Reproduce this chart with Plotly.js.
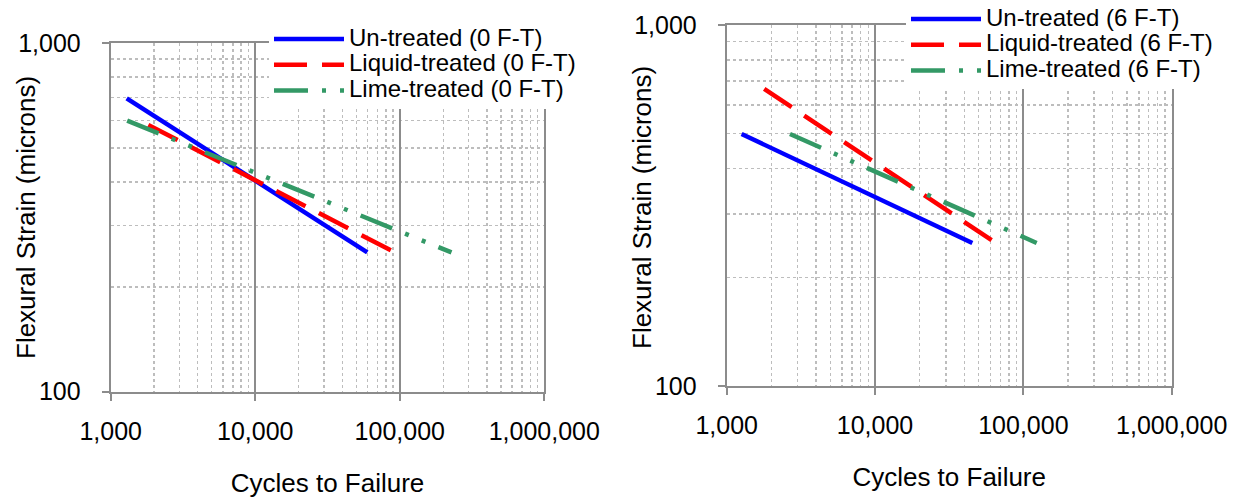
<!DOCTYPE html>
<html>
<head>
<meta charset="utf-8">
<script src="https://cdn.plot.ly/plotly-3.0.1.min.js"></script>
<style>html,body{margin:0;padding:0;background:#fff;}#chart{width:1244px;height:498px;}</style>
</head>
<body>
<div id="chart"></div>
<script>
// ---- Data ----
const seriesNames0 = ['Un-treated (0 F-T)', 'Liquid-treated (0 F-T)', 'Lime-treated (0 F-T)'];
const seriesNames6 = ['Un-treated (6 F-T)', 'Liquid-treated (6 F-T)', 'Lime-treated (6 F-T)'];

// 0 F-T fatigue lines (cycles to failure, flexural strain in microns)
const untreated0Cycles = [1290, 59600];
const untreated0Strain = [695, 251];
const liquid0Cycles = [1820, 92700];
const liquid0Strain = [583, 251];
const lime0Cycles = [1300, 228000];
const lime0Strain = [600, 251];

// 6 F-T fatigue lines
const untreated6Cycles = [1260, 45300];
const untreated6Strain = [499, 249];
const liquid6Cycles = [1790, 65400];
const liquid6Strain = [665, 249];
const lime6Cycles = [2670, 123000];
const lime6Strain = [499, 249];

// Tick values / labels
const xTickVals = [1000, 10000, 100000, 1000000];
const yTickVals = [100, 1000];
const xTitle = 'Cycles to Failure';
const yTitle = 'Flexural Strain (microns)';

// ---- Styling ----
const FONT = 'Arial, "Liberation Sans", sans-serif';
const AX = '#8c8c8c';
const MINOR = '#bdbdbd';
const styles = [
  {color: '#0000ff', width: 4.5, dash: 'solid'},
  {color: '#ff0000', width: 4.5, dash: '33px,15px'},
  {color: '#339966', width: 4.5, dash: '34px,14px,4px,14px,4px,14px'}
];

function minorVals(lo, hi) {
  const out = [];
  for (let d = lo; d < hi; d *= 10) for (let k = 2; k <= 9; k++) out.push(k * d);
  return out;
}

function legendLabel(name) {
  return '<span style="font-size:24px">' + name + '</span>';
}

function mk(x, y, name, s, xa, ya, leg) {
  return {x, y, name: legendLabel(name), type: 'scatter', mode: 'lines', xaxis: xa, yaxis: ya, legend: leg,
          line: {color: s.color, width: s.width, dash: s.dash}, hoverinfo: 'x+y'};
}

const data = [
  mk(untreated0Cycles, untreated0Strain, seriesNames0[0], styles[0], 'x', 'y', 'legend'),
  mk(liquid0Cycles, liquid0Strain, seriesNames0[1], styles[1], 'x', 'y', 'legend'),
  mk(lime0Cycles, lime0Strain, seriesNames0[2], styles[2], 'x', 'y', 'legend'),
  mk(untreated6Cycles, untreated6Strain, seriesNames6[0], styles[0], 'x2', 'y2', 'legend2'),
  mk(liquid6Cycles, liquid6Strain, seriesNames6[1], styles[1], 'x2', 'y2', 'legend2'),
  mk(lime6Cycles, lime6Strain, seriesNames6[2], styles[2], 'x2', 'y2', 'legend2')
];

function xAxis(domain, anchor) {
  return {
    type: 'log', domain, anchor, range: [3, 6], fixedrange: true,
    tickmode: 'array', tickvals: xTickVals, tickformat: ',d',
    ticks: 'outside', ticklen: 7, tickwidth: 2, tickcolor: AX,
    ticklabelstandoff: 9,
    showline: true, linecolor: AX, linewidth: 2, mirror: true,
    showgrid: true, gridcolor: AX, gridwidth: 2, zeroline: false,
    minor: {tickmode: 'array', tickvals: minorVals(1000, 1000000), showgrid: true,
            gridcolor: MINOR, griddash: 'dot', gridwidth: 1.5, ticks: ''},
    tickfont: {family: FONT, size: 25, color: '#000'},
    title: {text: xTitle, font: {family: FONT, size: 26, color: '#000'}, standoff: 30}
  };
}
function yAxis(domain, anchor) {
  return {
    type: 'log', domain, anchor, range: [2, 3], fixedrange: true,
    tickmode: 'array', tickvals: yTickVals, tickformat: ',d',
    ticks: 'outside', ticklen: 7, tickwidth: 2, tickcolor: AX,
    ticklabelstandoff: 16,
    showline: true, linecolor: AX, linewidth: 2, mirror: true,
    showgrid: true, gridcolor: AX, gridwidth: 2, zeroline: false,
    minor: {tickmode: 'array', tickvals: minorVals(100, 1000), showgrid: true,
            gridcolor: MINOR, griddash: 'dot', gridwidth: 1.5, ticks: ''},
    tickfont: {family: FONT, size: 25, color: '#000'},
    title: {text: ''}
  };
}

const W = 1244, H = 498;
const legendFont = {family: FONT, size: 17.5, color: '#000'};
const layout = {
  width: W, height: H,
  margin: {l: 0, r: 0, t: 0, b: 0},
  paper_bgcolor: '#fff', plot_bgcolor: '#fff',
  showlegend: true,
  font: {family: FONT, color: '#000'},
  xaxis: xAxis([110.7 / W, 544.3 / W], 'y'),
  yaxis: yAxis([(H - 391.7) / H, (H - 43.3) / H], 'x'),
  xaxis2: xAxis([726.7 / W, 1171.7 / W], 'y2'),
  yaxis2: yAxis([(H - 386) / H, (H - 25) / H], 'x2'),
  legend: {x: 269 / W, xanchor: 'left', y: (H - 21) / H, yanchor: 'top',
           bgcolor: '#fff', borderwidth: 0, font: legendFont, tracegroupgap: 0,
           itemwidth: 70},
  legend2: {x: 906 / W, xanchor: 'left', y: (H - 1) / H, yanchor: 'top',
            bgcolor: '#fff', borderwidth: 0, font: legendFont, tracegroupgap: 0,
            itemwidth: 70},
  annotations: [
    {text: yTitle, xref: 'paper', yref: 'paper', x: 26 / W, y: (H - 218) / H,
     xanchor: 'center', yanchor: 'middle', textangle: -90, showarrow: false,
     font: {family: FONT, size: 26, color: '#000'}},
    {text: yTitle, xref: 'paper', yref: 'paper', x: 642 / W, y: (H - 207) / H,
     xanchor: 'center', yanchor: 'middle', textangle: -90, showarrow: false,
     font: {family: FONT, size: 26, color: '#000'}}
  ]
};

Plotly.newPlot('chart', data, layout, {displayModeBar: false, staticPlot: true});
</script>
</body>
</html>
